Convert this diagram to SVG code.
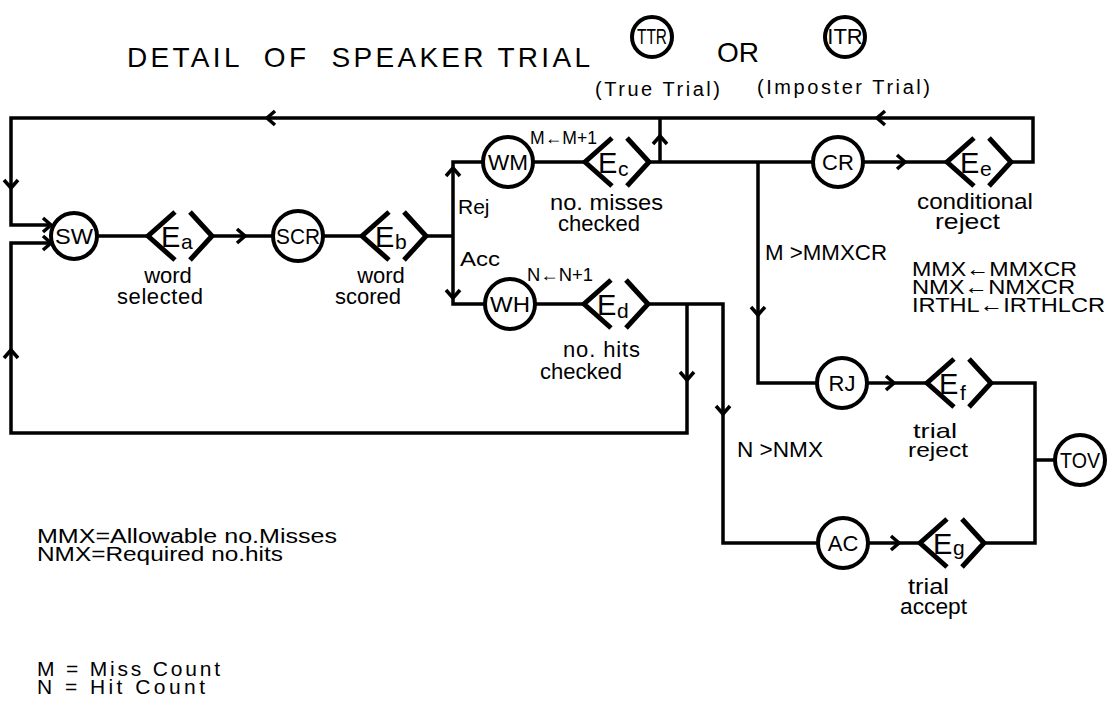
<svg xmlns="http://www.w3.org/2000/svg" xmlns:xlink="http://www.w3.org/1999/xlink" width="1116" height="703" viewBox="0 0 1116 703">
<style>
.ln{stroke:#000;stroke-width:3.5;fill:none;stroke-linejoin:miter}
.nd{stroke:#000;stroke-width:4;fill:#fff}
.ch{stroke:#000;stroke-width:5;fill:none}
.t{font-family:"Liberation Sans","DejaVu Sans",sans-serif;fill:#000}
.nt{font-size:22px;text-anchor:middle}
.lb{font-size:22px}
.ee{font-size:29px}
.es{font-size:21px}
.mid{text-anchor:middle}
</style>
<defs>
<path id="ah" d="M-8,-7 L0,0 L-8,7" class="ln"/>
<g id="eg">
<path d="M27,-24 L0,0 L27,24" class="ch"/>
<path d="M42,-24 L64,0 L42,24" class="ch"/>
</g>
</defs>
<rect width="1116" height="703" fill="#fff"/>

<g id="title">
<text class="t" x="127" y="67" font-size="28" textLength="463" lengthAdjust="spacing" xml:space="preserve">DETAIL  OF  SPEAKER TRIAL</text>
<circle cx="652" cy="37" r="20" class="nd"/>
<text class="t nt" x="652" y="44" font-size="17" textLength="30" lengthAdjust="spacingAndGlyphs">TTR</text>
<text class="t" x="595" y="96" font-size="20" textLength="125" lengthAdjust="spacing">(True Trial)</text>
<text class="t" x="717" y="62" font-size="28">OR</text>
<circle cx="845" cy="37" r="20" class="nd"/>
<text class="t nt" x="845" y="44" font-size="17">ITR</text>
<text class="t" x="757" y="94" font-size="20" textLength="173" lengthAdjust="spacing">(Imposter Trial)</text>
</g>

<g id="connectors">
<polyline class="ln" points="1008,162 1033,162 1033,118 11,118 11,225 51,225"/>
<polyline class="ln" points="660,162 660,118"/>
<polyline class="ln" points="687,304 687,433 11,433 11,243 51,243"/>
<line class="ln" x1="97" y1="236" x2="148" y2="236"/>
<line class="ln" x1="212" y1="236" x2="273" y2="236"/>
<line class="ln" x1="323" y1="236" x2="362" y2="236"/>
<line class="ln" x1="426" y1="236" x2="453" y2="236"/>
<polyline class="ln" points="483,162 453,162 453,304 485,304"/>
<line class="ln" x1="533" y1="162" x2="585" y2="162"/>
<line class="ln" x1="649" y1="162" x2="813" y2="162"/>
<line class="ln" x1="863" y1="162" x2="947" y2="162"/>
<polyline class="ln" points="758,162 758,383 817,383"/>
<line class="ln" x1="867" y1="383" x2="927" y2="383"/>
<polyline class="ln" points="991,383 1035,383 1035,543 985,543"/>
<line class="ln" x1="1035" y1="460" x2="1055" y2="460"/>
<line class="ln" x1="535" y1="304" x2="584" y2="304"/>
<polyline class="ln" points="648,304 723,304 723,543 818,543"/>
<line class="ln" x1="868" y1="543" x2="920" y2="543"/>
<use xlink:href="#ah" href="#ah" transform="translate(267,118) rotate(180)"/>
<use xlink:href="#ah" href="#ah" transform="translate(877,118) rotate(180)"/>
<use xlink:href="#ah" href="#ah" transform="translate(11,188) rotate(90)"/>
<use xlink:href="#ah" href="#ah" transform="translate(51,225)"/>
<use xlink:href="#ah" href="#ah" transform="translate(51,243)"/>
<use xlink:href="#ah" href="#ah" transform="translate(11,350) rotate(-90)"/>
<use xlink:href="#ah" href="#ah" transform="translate(245,236)"/>
<use xlink:href="#ah" href="#ah" transform="translate(453,168) rotate(-90)"/>
<use xlink:href="#ah" href="#ah" transform="translate(453,298) rotate(90)"/>
<use xlink:href="#ah" href="#ah" transform="translate(660,136) rotate(-90)"/>
<use xlink:href="#ah" href="#ah" transform="translate(905,162)"/>
<use xlink:href="#ah" href="#ah" transform="translate(758,315) rotate(90)"/>
<use xlink:href="#ah" href="#ah" transform="translate(687,380) rotate(90)"/>
<use xlink:href="#ah" href="#ah" transform="translate(723,414) rotate(90)"/>
<use xlink:href="#ah" href="#ah" transform="translate(894,383)"/>
<use xlink:href="#ah" href="#ah" transform="translate(899,543)"/>
</g>

<g id="node-SW"><circle cx="74" cy="236" r="23" class="nd"/><text class="t nt" x="74" y="244" textLength="38" lengthAdjust="spacingAndGlyphs">SW</text></g>
<g id="node-Ea"><use xlink:href="#eg" href="#eg" transform="translate(148,236)"/><text class="t ee" x="161" y="247">E</text><text class="t es" x="181" y="249">a</text>
<text class="t lb mid" x="168" y="283">word</text><text class="t lb mid" x="160" y="304" textLength="86" lengthAdjust="spacing">selected</text></g>
<g id="node-SCR"><circle cx="298" cy="236" r="25" class="nd"/><text class="t nt" x="298" y="244" textLength="44" lengthAdjust="spacingAndGlyphs">SCR</text></g>
<g id="node-Eb"><use xlink:href="#eg" href="#eg" transform="translate(362,236)"/><text class="t ee" x="375" y="247">E</text><text class="t es" x="395" y="249">b</text>
<text class="t lb mid" x="381" y="283">word</text><text class="t lb mid" x="368" y="304">scored</text></g>
<g id="node-WM"><circle cx="508" cy="162" r="25" class="nd"/><text class="t nt" x="508" y="170" textLength="40" lengthAdjust="spacingAndGlyphs">WM</text>
<text class="t" x="530" y="144" font-size="18" textLength="67" lengthAdjust="spacingAndGlyphs">M←M+1</text></g>
<g id="node-Ec"><use xlink:href="#eg" href="#eg" transform="translate(585,162)"/><text class="t ee" x="598" y="173">E</text><text class="t es" x="618" y="176">c</text>
<text class="t lb" x="550" y="210" textLength="113" lengthAdjust="spacingAndGlyphs">no. misses</text><text class="t lb" x="558" y="231" textLength="82" lengthAdjust="spacingAndGlyphs">checked</text></g>
<g id="node-WH"><circle cx="510" cy="304" r="25" class="nd"/><text class="t nt" x="510" y="312" textLength="40" lengthAdjust="spacingAndGlyphs">WH</text>
<text class="t" x="527" y="281" font-size="18" textLength="66" lengthAdjust="spacingAndGlyphs">N←N+1</text></g>
<g id="node-Ed"><use xlink:href="#eg" href="#eg" transform="translate(584,304)"/><text class="t ee" x="597" y="315">E</text><text class="t es" x="617" y="318">d</text>
<text class="t lb" x="563" y="357" textLength="77" lengthAdjust="spacing">no. hits</text><text class="t lb" x="540" y="379" textLength="82" lengthAdjust="spacingAndGlyphs">checked</text></g>
<g id="node-CR"><circle cx="838" cy="162" r="25" class="nd"/><text class="t nt" x="838" y="170">CR</text></g>
<g id="node-Ee"><use xlink:href="#eg" href="#eg" transform="translate(947,162)"/><text class="t ee" x="960" y="173">E</text><text class="t es" x="980" y="176">e</text>
<text class="t lb" x="917" y="209" textLength="116" lengthAdjust="spacingAndGlyphs">conditional</text><text class="t lb" x="935" y="229" textLength="65" lengthAdjust="spacingAndGlyphs">reject</text></g>
<g id="node-RJ"><circle cx="842" cy="383" r="25" class="nd"/><text class="t nt" x="842" y="391">RJ</text></g>
<g id="node-Ef"><use xlink:href="#eg" href="#eg" transform="translate(927,383)"/><text class="t ee" x="939" y="394">E</text><text class="t es" x="960" y="400">f</text>
<text class="t" x="913" y="438" font-size="21" textLength="44" lengthAdjust="spacingAndGlyphs">trial</text><text class="t" x="908" y="457" font-size="21" textLength="60" lengthAdjust="spacingAndGlyphs">reject</text></g>
<g id="node-TOV"><circle cx="1080" cy="460" r="25" class="nd"/><text class="t nt" x="1080" y="468" textLength="40" lengthAdjust="spacingAndGlyphs">TOV</text></g>
<g id="node-AC"><circle cx="843" cy="543" r="25" class="nd"/><text class="t nt" x="843" y="551">AC</text></g>
<g id="node-Eg"><use xlink:href="#eg" href="#eg" transform="translate(920,543)"/><text class="t ee" x="933" y="554">E</text><text class="t es" x="953" y="555">g</text>
<text class="t lb" x="908" y="594" textLength="41" lengthAdjust="spacingAndGlyphs">trial</text><text class="t lb" x="900" y="614" textLength="67" lengthAdjust="spacingAndGlyphs">accept</text></g>

<g id="labels">
<text class="t" x="458" y="214" font-size="21">Rej</text>
<text class="t" x="460" y="266" font-size="21" textLength="40" lengthAdjust="spacingAndGlyphs">Acc</text>
<text class="t" x="765" y="260" font-size="22" textLength="122" lengthAdjust="spacingAndGlyphs">M &gt;MMXCR</text>
<text class="t" x="737" y="457" font-size="22" textLength="86" lengthAdjust="spacingAndGlyphs">N &gt;NMX</text>
<text class="t" x="912" y="276" font-size="21" textLength="165" lengthAdjust="spacingAndGlyphs">MMX←MMXCR</text>
<text class="t" x="912" y="294" font-size="21" textLength="163" lengthAdjust="spacingAndGlyphs">NMX←NMXCR</text>
<text class="t" x="912" y="312" font-size="21" textLength="193" lengthAdjust="spacingAndGlyphs">IRTHL←IRTHLCR</text>
<text class="t" x="37" y="543" font-size="20" textLength="300" lengthAdjust="spacingAndGlyphs">MMX=Allowable no.Misses</text>
<text class="t" x="37" y="561" font-size="20" textLength="246" lengthAdjust="spacingAndGlyphs">NMX=Required no.hits</text>
<text class="t" x="37" y="676" font-size="21" textLength="183" lengthAdjust="spacing">M = Miss Count</text>
<text class="t" x="37" y="694" font-size="21" textLength="168" lengthAdjust="spacing">N = Hit Count</text>
</g>
</svg>
